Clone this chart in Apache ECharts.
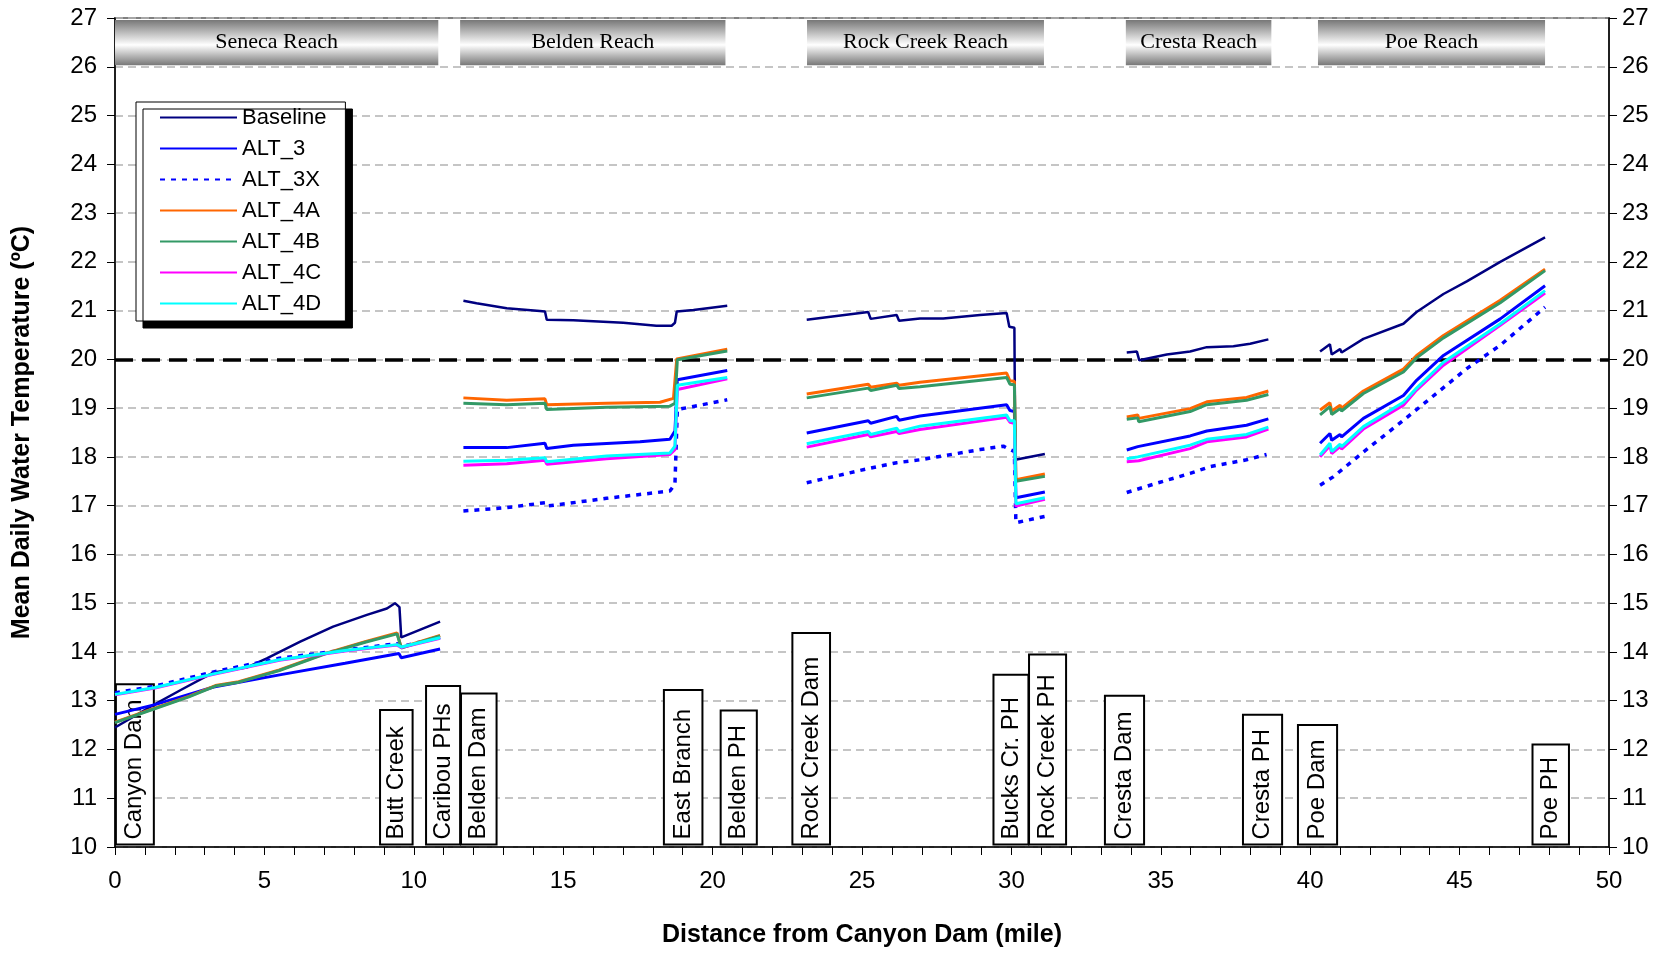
<!DOCTYPE html>
<html>
<head>
<meta charset="utf-8">
<script src="https://cdn.jsdelivr.net/npm/echarts/dist/echarts.min.js"></script>
<style>
html,body{margin:0;padding:0;background:#fff;}
#chart{width:1665px;height:953px;}
</style>
</head>
<body>
<div id="chart"></div>
<script>
// ---------- DATA ----------
const seriesNames = ['Baseline','ALT_3','ALT_3X','ALT_4A','ALT_4B','ALT_4C','ALT_4D'];

// each series: list of reach segments, each segment a list of [mile, temperature]
const baseline = [
  [[0,12.45],[1.28,12.91],[2.2,13.22],[3.3,13.58],[4.4,13.68],[5.08,13.87],[6.2,14.21],[7.3,14.52],[8.43,14.76],[9.1,14.89],[9.37,15.0],[9.52,14.92],[9.58,14.3],[10.88,14.62]],
  [[11.66,21.2],[12.1,21.15],[13.11,21.05],[14.22,20.99],[14.39,20.98],[14.45,20.81],[15.34,20.8],[17.01,20.75],[18.12,20.69],[18.63,20.69],[18.74,20.75],[18.8,20.98],[19.36,21.01],[20.49,21.1]],
  [[23.15,20.81],[25.21,20.97],[25.29,20.83],[26.16,20.91],[26.24,20.79],[26.94,20.84],[27.72,20.84],[28.95,20.91],[29.84,20.95],[29.93,20.67],[30.1,20.65],[30.13,17.94],[31.12,18.06]],
  [[33.86,20.14],[34.2,20.16],[34.28,19.98],[35.2,20.1],[35.98,20.16],[36.54,20.25],[37.43,20.27],[37.99,20.32],[38.6,20.41]],
  [[40.33,20.16],[40.66,20.31],[40.72,20.1],[41.0,20.21],[41.05,20.14],[41.78,20.42],[43.12,20.73],[43.56,20.97],[44.46,21.34],[45.24,21.6],[46.36,22.0],[47.86,22.5]]
];
const alt3 = [
  [[0,12.72],[1.34,12.92],[3.3,13.28],[5.6,13.54],[7.7,13.77],[9.5,13.97],[9.58,13.88],[10.88,14.06]],
  [[11.66,18.19],[13.11,18.19],[14.39,18.28],[14.45,18.17],[15.34,18.24],[17.57,18.31],[18.57,18.36],[18.74,18.53],[18.82,19.58],[20.49,19.77]],
  [[23.15,18.49],[25.21,18.74],[25.29,18.69],[26.16,18.83],[26.24,18.75],[26.94,18.84],[29.84,19.07],[29.95,18.95],[30.1,18.93],[30.15,17.16],[31.12,17.28]],
  [[33.86,18.14],[34.23,18.21],[34.26,18.17],[35.98,18.43],[36.54,18.53],[37.87,18.65],[38.6,18.78]],
  [[40.33,18.28],[40.66,18.48],[40.72,18.34],[41.0,18.46],[41.05,18.41],[41.78,18.79],[43.12,19.26],[43.56,19.57],[44.46,20.08],[46.36,20.83],[47.86,21.51]]
];
const alt3x = [
  [[0,13.16],[1.34,13.3],[3.3,13.59],[5.5,13.87],[7.7,14.04],[9.44,14.17],[9.58,14.11],[10.88,14.3]],
  [[11.66,16.89],[13.11,16.96],[14.39,17.06],[14.45,16.99],[16.45,17.15],[18.57,17.3],[18.74,17.44],[18.82,18.97],[20.49,19.17]],
  [[23.15,17.47],[25.21,17.76],[26.16,17.88],[26.94,17.94],[28.95,18.15],[29.73,18.22],[29.95,18.15],[30.1,18.11],[30.15,16.65],[31.12,16.78]],
  [[33.86,17.27],[34.86,17.46],[35.98,17.66],[36.65,17.8],[37.87,17.94],[38.54,18.05]],
  [[40.33,17.42],[40.77,17.59],[41.78,18.1],[43.12,18.75],[44.46,19.42],[45.24,19.81],[46.36,20.29],[47.86,21.07]]
];
const alt4a = [
  [[0,12.56],[1.3,12.84],[2.47,13.09],[3.36,13.31],[4.14,13.39],[5.5,13.63],[7.04,13.97],[8.37,14.21],[9.44,14.39],[9.58,14.09],[10.88,14.34]],
  [[11.66,19.21],[13.11,19.16],[14.39,19.19],[14.45,19.07],[16.45,19.1],[18.24,19.12],[18.69,19.2],[18.8,20.01],[20.49,20.21]],
  [[23.15,19.29],[25.21,19.49],[25.29,19.43],[26.16,19.51],[26.24,19.47],[26.94,19.53],[29.84,19.72],[29.95,19.56],[30.1,19.55],[30.15,17.53],[31.12,17.65]],
  [[33.86,18.82],[34.23,18.86],[34.26,18.79],[35.98,18.99],[36.54,19.13],[37.87,19.22],[38.6,19.35]],
  [[40.33,18.96],[40.66,19.11],[40.72,18.94],[41.0,19.06],[41.05,19.0],[41.78,19.35],[43.12,19.8],[43.56,20.08],[44.46,20.49],[46.36,21.21],[47.86,21.85]]
];
const alt4b = [
  [[0,12.55],[1.3,12.83],[2.47,13.08],[3.36,13.3],[4.14,13.38],[5.5,13.62],[7.04,13.96],[8.37,14.2],[9.44,14.37],[9.58,14.08],[10.88,14.33]],
  [[11.66,19.1],[13.11,19.07],[14.39,19.1],[14.45,18.97],[16.45,19.02],[18.57,19.04],[18.74,19.1],[18.82,19.99],[20.49,20.17]],
  [[23.15,19.21],[25.21,19.41],[25.29,19.36],[26.16,19.47],[26.24,19.4],[26.94,19.44],[29.84,19.63],[29.95,19.49],[30.1,19.48],[30.15,17.5],[31.12,17.6]],
  [[33.86,18.77],[34.23,18.8],[34.26,18.72],[35.98,18.93],[36.54,19.07],[37.87,19.16],[38.6,19.28]],
  [[40.33,18.86],[40.66,19.03],[40.72,18.87],[41.0,18.99],[41.05,18.94],[41.78,19.3],[43.12,19.74],[43.56,20.03],[44.46,20.44],[46.36,21.16],[47.86,21.82]]
];
const alt4c = [
  [[0,13.12],[1.34,13.26],[3.3,13.54],[5.5,13.83],[7.7,14.02],[9.44,14.14],[9.58,14.09],[10.88,14.28]],
  [[11.66,17.83],[13.11,17.86],[14.39,17.93],[14.45,17.85],[16.45,17.96],[18.57,18.05],[18.74,18.15],[18.82,19.38],[20.49,19.6]],
  [[23.15,18.2],[25.21,18.46],[25.29,18.41],[26.16,18.52],[26.24,18.48],[26.94,18.56],[29.84,18.81],[29.95,18.71],[30.1,18.69],[30.15,16.99],[31.12,17.13]],
  [[33.86,17.9],[34.26,17.92],[35.98,18.17],[36.54,18.31],[37.87,18.41],[38.6,18.57]],
  [[40.33,18.0],[40.66,18.23],[40.72,18.07],[41.0,18.21],[41.05,18.16],[41.78,18.57],[43.12,19.06],[43.56,19.37],[44.46,19.88],[46.36,20.7],[47.86,21.36]]
];
const alt4d = [
  [[0,13.13],[1.34,13.27],[3.3,13.55],[5.5,13.84],[7.7,14.03],[9.44,14.15],[9.58,14.1],[10.88,14.29]],
  [[11.66,17.91],[13.11,17.93],[14.39,17.98],[14.45,17.9],[16.45,18.02],[18.57,18.08],[18.74,18.22],[18.82,19.47],[20.49,19.63]],
  [[23.15,18.27],[25.21,18.52],[25.29,18.46],[26.16,18.59],[26.24,18.52],[26.94,18.63],[29.84,18.86],[29.95,18.74],[30.1,18.74],[30.15,17.04],[31.12,17.16]],
  [[33.86,17.96],[34.23,18.0],[34.26,17.96],[35.98,18.24],[36.54,18.36],[37.87,18.46],[38.6,18.61]],
  [[40.33,18.04],[40.66,18.28],[40.72,18.11],[41.0,18.26],[41.05,18.21],[41.78,18.62],[43.12,19.12],[43.56,19.41],[44.46,19.94],[46.36,20.73],[47.86,21.41]]
];

const threshold = 20;

// reach header bands: [startMile, endMile]
const reachNames = ['Seneca Reach','Belden Reach','Rock Creek Reach','Cresta Reach','Poe Reach'];
const reachStart = [0, 11.55, 23.16, 33.83, 40.26];
const reachEnd   = [10.82, 20.43, 31.09, 38.7, 47.86];
const reachBottom = 26.03, reachTop = 26.96;

// landmark labels
const landmarkNames = ['Canyon Dam','Butt Creek','Caribou PHs','Belden Dam','East Branch','Belden PH','Rock Creek Dam','Bucks Cr. PH','Rock Creek PH','Cresta Dam','Cresta PH','Poe Dam','Poe PH'];
const landmarkLeft  = [0.03, 8.87, 10.41, 11.58, 18.37, 20.27, 22.67, 29.4, 30.59, 33.13, 37.75, 39.59, 47.44];
const landmarkRight = [1.3, 9.96, 11.55, 12.77, 19.66, 21.48, 23.93, 30.57, 31.83, 34.44, 39.06, 40.9, 48.66];
const landmarkTop   = [13.34, 12.81, 13.3, 13.15, 13.22, 12.8, 14.39, 13.53, 13.95, 13.1, 12.71, 12.5, 12.1];
const landmarkBase = 10.05;

// ---------- BUILD ----------
function joinSegments(segs){
  const out = [];
  segs.forEach((s,i)=>{ if(i>0) out.push('-'); s.forEach(p=>out.push(p)); });
  return out;
}
const seriesData = [baseline, alt3, alt3x, alt4a, alt4b, alt4c, alt4d];
const seriesColors = ['#000080','#0000FF','#0000FF','#FF6600','#339966','#FF00FF','#00FFFF'];
const seriesWidths = [2.5, 3, 3.5, 3, 3, 3, 3];
const seriesTypes = ['solid','solid',[5,6],'solid','solid','solid','solid'];

const SANS = '"Liberation Sans", Arial, sans-serif';
const SERIF = '"Liberation Serif", "Times New Roman", serif';

const lineSeries = seriesNames.map((n,i)=>({
  name:n, type:'line', data: joinSegments(seriesData[i]),
  symbol:'none', showSymbol:false, connectNulls:false, z:5,
  lineStyle:{color:seriesColors[i], width:seriesWidths[i], type:seriesTypes[i], cap:'butt'},
  itemStyle:{color:seriesColors[i]},
  emphasis:{disabled:true}, animation:false,
  markLine: i===0 ? {
    symbol:'none', silent:true, label:{show:false}, animation:false,
    lineStyle:{color:'#000', width:3.5, type:[18,9]},
    data:[{yAxis:threshold}]
  } : undefined
}));

const headerSeries = {
  type:'custom', name:'reaches', z:2, silent:true, animation:false, clip:false,
  encode:{x:[0,1], y:[2,3]},
  data: reachNames.map((n,i)=>[reachStart[i], reachEnd[i], reachBottom, reachTop]),
  renderItem:function(params, api){
    const a = api.coord([api.value(0), api.value(3)]);
    const b = api.coord([api.value(1), api.value(2)]);
    return {type:'group', children:[
      {type:'rect', shape:{x:a[0], y:a[1], width:b[0]-a[0], height:b[1]-a[1]},
       style:{fill:{type:'linear', x:0, y:0, x2:0, y2:1, global:false,
         colorStops:[{offset:0,color:'#777777'},{offset:0.55,color:'#ffffff'},{offset:1,color:'#777777'}]}}},
      {type:'text', x:(a[0]+b[0])/2, y:(a[1]+b[1])/2,
       style:{text:reachNames[params.dataIndex], font:'22px '+SERIF, fill:'#000', align:'center', verticalAlign:'middle'}}
    ]};
  }
};

const landmarkSeries = {
  type:'custom', name:'landmarks', z:2, silent:true, animation:false, clip:false,
  encode:{x:[0,1], y:[2,3]},
  data: landmarkNames.map((n,i)=>[landmarkLeft[i], landmarkRight[i], landmarkBase, landmarkTop[i]]),
  renderItem:function(params, api){
    const a = api.coord([api.value(0), api.value(3)]);
    const b = api.coord([api.value(1), api.value(2)]);
    return {type:'group', children:[
      {type:'rect', shape:{x:a[0], y:a[1], width:b[0]-a[0], height:b[1]-a[1]},
       style:{fill:'#fff', stroke:'#000', lineWidth:2}},
      {type:'text', x:(a[0]+b[0])/2, y:b[1]-5, rotation:Math.PI/2,
       style:{text:landmarkNames[params.dataIndex], font:'24px '+SANS, fill:'#000', align:'left', verticalAlign:'middle'}}
    ]};
  }
};

const chart = echarts.init(document.getElementById('chart'), null, {renderer:'canvas'});
chart.setOption({
  animation:false,
  backgroundColor:'#fff',
  grid:{left:115, right:56, top:18, bottom:103, show:true, borderColor:'#808080', borderWidth:2, backgroundColor:'transparent'},
  legend:{
    data:seriesNames, orient:'vertical', left:136, top:102,
    padding:[4,19,6,23], itemGap:8, itemWidth:77, itemHeight:14,
    itemStyle:{opacity:0},
    textStyle:{fontSize:22, lineHeight:23, color:'#000', fontFamily:SANS},
    backgroundColor:'#fff', borderColor:'#000', borderWidth:1,
    shadowColor:'#000', shadowOffsetX:7, shadowOffsetY:7, shadowBlur:0,
    selectedMode:false
  },
  xAxis:{
    type:'value', min:0, max:50, interval:5,
    name:'Distance from Canyon Dam (mile)', nameLocation:'middle', nameGap:76,
    nameTextStyle:{fontSize:25, fontWeight:'bold', color:'#000', fontFamily:SANS},
    axisLine:{show:true, lineStyle:{color:'#000', width:1.5}},
    axisTick:{show:true, length:8, lineStyle:{color:'#000'}},
    minorTick:{show:true, splitNumber:5, length:8, lineStyle:{color:'#000'}},
    axisLabel:{fontSize:24, color:'#000', margin:22, fontFamily:SANS},
    splitLine:{show:false}
  },
  yAxis:[{
    type:'value', min:10, max:27, interval:1, position:'left',
    name:'Mean Daily Water Temperature (ºC)', nameLocation:'middle', nameGap:80, nameRotate:90,
    nameTextStyle:{fontSize:25, fontWeight:'bold', color:'#000', fontFamily:SANS},
    axisLine:{show:true, lineStyle:{color:'#000', width:1.5}},
    axisTick:{show:true, length:8, lineStyle:{color:'#000'}},
    axisLabel:{fontSize:24, color:'#000', margin:18, fontFamily:SANS},
    splitLine:{show:true, lineStyle:{color:'#b3b3b3', width:1.5, type:[8,5]}}
  },{
    type:'value', min:10, max:27, interval:1, position:'right',
    axisLine:{show:true, lineStyle:{color:'#000', width:1.5}},
    axisTick:{show:true, length:8, lineStyle:{color:'#000'}},
    axisLabel:{fontSize:24, color:'#000', margin:13, fontFamily:SANS},
    splitLine:{show:false}
  }],
  series:[headerSeries, landmarkSeries].concat(lineSeries)
});
</script>
</body>
</html>
